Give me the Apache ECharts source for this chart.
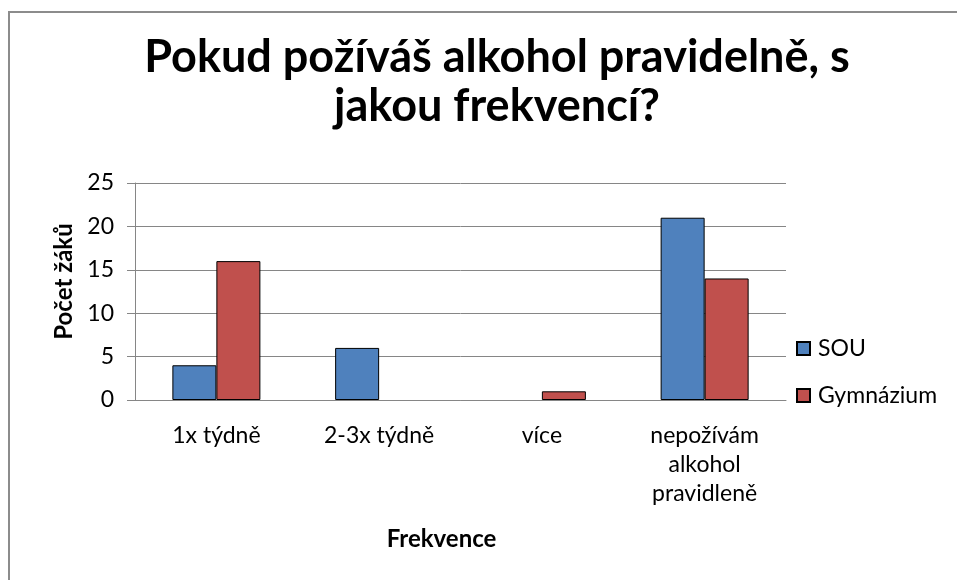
<!DOCTYPE html>
<html lang="cs">
<head>
<meta charset="UTF-8">
<title>Frekvence</title>
<script src="https://cdn.jsdelivr.net/npm/echarts@6/dist/echarts.min.js"></script>
<style>
    html, body { margin: 0; padding: 0; width: 100%; height: 100%; background: #fff; overflow: hidden; }
    #frame { position: absolute; left: 8px; top: 11px; width: 1000px; height: 700px; border-left: 2px solid #8c8c8c; border-top: 2px solid #8c8c8c; }
    #main { position: absolute; left: 0; top: 0; width: 957px; height: 580px; }
</style>
</head>
<body>
<div id="frame"></div>
<div id="main"></div>
<script>
    // data
    var categories = ['1x týdně', '2-3x týdně', 'více', 'nepožívám\nalkohol\npravidleně'];
    var sou = [4, 6, 0, 21];
    var gymnazium = [16, 0, 1, 14];
    var yTicks = { min: 0, max: 25, interval: 5 };

    // zero values are not drawn at all in the original
    function noZero(arr) {
        return arr.map(function (v) { return v === 0 ? '-' : v; });
    }

    var font = 'Lato, "Open Sans", sans-serif';
    var chart = echarts.init(document.getElementById('main'));

    chart.setOption({
        backgroundColor: 'transparent',
        textStyle: { fontFamily: font },
        title: {
            text: 'Pokud požíváš alkohol pravidelně, s\njakou frekvencí?',
            left: 492,
            textAlign: 'center',
            top: 28,
            textStyle: { fontFamily: font, fontSize: 45, fontWeight: 'bold', color: '#000', lineHeight: 49 }
        },
        legend: {
            orient: 'vertical',
            left: 791,
            top: 332,
            itemWidth: 13,
            itemHeight: 13,
            itemGap: 24,
            icon: 'rect',
            textStyle: { fontFamily: font, fontSize: 23, color: '#000', padding: [0, 0, 0, 3] },
            data: ['SOU', 'Gymnázium']
        },
        grid: { left: 135, right: 171, top: 183, bottom: 180 },
        xAxis: {
            type: 'category',
            data: categories,
            name: 'Frekvence',
            nameLocation: 'middle',
            nameGap: 127,
            nameTextStyle: { fontFamily: font, fontSize: 24, fontWeight: 'bold', color: '#000', padding: [0, 38, 0, 0] },
            axisLine: { lineStyle: { color: '#868686', width: 1 } },
            axisTick: { show: false },
            axisLabel: { fontFamily: font, fontSize: 23, color: '#000', lineHeight: 29, margin: 21, interval: 0 }
        },
        yAxis: {
            type: 'value',
            min: yTicks.min,
            max: yTicks.max,
            interval: yTicks.interval,
            name: 'Počet žáků',
            nameLocation: 'middle',
            nameGap: 58,
            nameTextStyle: { fontFamily: font, fontSize: 24, fontWeight: 'bold', color: '#000', padding: [0, 0, 0, 20] },
            axisLine: { show: true, lineStyle: { color: '#868686', width: 1 } },
            axisTick: { show: true, length: 8, lineStyle: { color: '#868686' } },
            axisLabel: { fontFamily: font, fontSize: 23, color: '#000', margin: 21 },
            splitLine: { lineStyle: { color: '#868686', width: 1 } }
        },
        series: [
            {
                name: 'SOU',
                type: 'bar',
                data: noZero(sou),
                barWidth: 44,
                barGap: '0%',
                itemStyle: { color: '#4F81BD', borderColor: '#000', borderWidth: 1 }
            },
            {
                name: 'Gymnázium',
                type: 'bar',
                data: noZero(gymnazium),
                barWidth: 44,
                barGap: '0%',
                itemStyle: { color: '#C0504D', borderColor: '#000', borderWidth: 1 }
            }
        ]
    });
</script>
</body>
</html>
